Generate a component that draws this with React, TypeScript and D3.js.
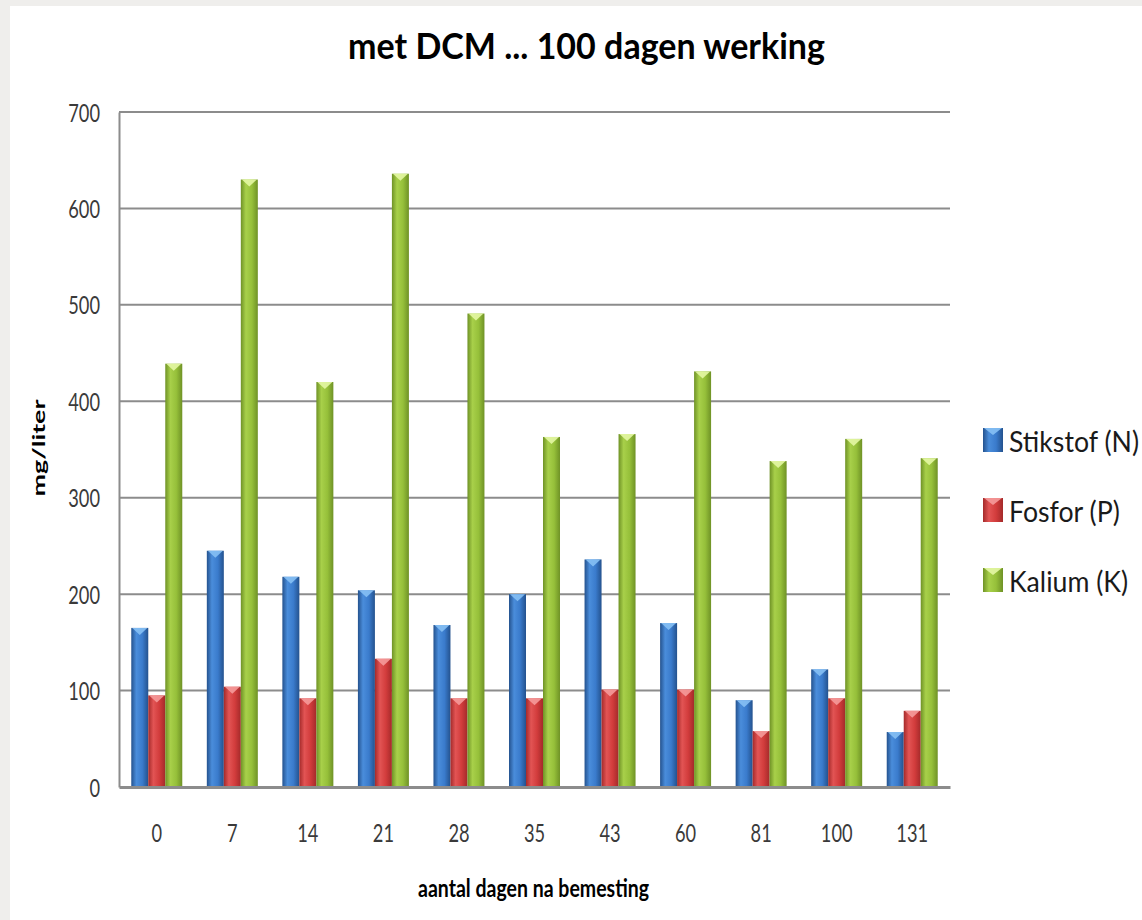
import { useEffect, useRef } from 'react'
import * as d3 from 'd3'

const days = ['0', '7', '14', '21', '28', '35', '43', '60', '81', '100', '131']
const stikstof = [165, 245, 218, 204, 168, 200, 236, 170, 90, 122, 57]
const fosfor = [95, 104, 92, 133, 92, 92, 101, 101, 58, 92, 79]
const kalium = [439, 630, 420, 636, 491, 363, 366, 431, 338, 361, 341]
const seriesNames = ['Stikstof (N)', 'Fosfor (P)', 'Kalium (K)']
const yTicks = [0, 100, 200, 300, 400, 500, 600, 700]

const palette = [
  { id: 'gN', dark: '#24528e', mid: '#4a8ddb', light: '#3a7bcc', cap: '#86c0f4' },
  { id: 'gP', dark: '#a42a2a', mid: '#e25454', light: '#d23c3c', cap: '#f59a9a' },
  { id: 'gK', dark: '#6f9226', mid: '#a8d04a', light: '#96c03a', cap: '#e4f7a4' },
]

export default function App() {
  const svgRef = useRef<SVGSVGElement>(null)

  useEffect(() => {
    if (!svgRef.current) return
    const svg = d3.select(svgRef.current)
    svg.selectAll('*').remove()

    const W = 1142
    const H = 920
    const margin = { top: 112, right: 192, bottom: 133, left: 119 }
    const font = 'Lato, "Open Sans", sans-serif'

    svg.attr('width', W).attr('height', H)

    // page background and white panel
    svg.append('rect').attr('width', W).attr('height', H).attr('fill', '#efeeec')
    svg.append('rect').attr('x', 10).attr('y', 6).attr('width', W - 10).attr('height', H - 6).attr('fill', '#ffffff')

    const defs = svg.append('defs')
    palette.forEach(p => {
      const lg = defs.append('linearGradient').attr('id', p.id).attr('x1', '0%').attr('x2', '100%').attr('y1', '0%').attr('y2', '0%')
      lg.append('stop').attr('offset', '0%').attr('stop-color', p.dark)
      lg.append('stop').attr('offset', '30%').attr('stop-color', p.mid)
      lg.append('stop').attr('offset', '65%').attr('stop-color', p.light)
      lg.append('stop').attr('offset', '100%').attr('stop-color', p.dark)
    })

    const x0 = d3.scaleBand<string>()
      .domain(days)
      .range([margin.left, W - margin.right])
      .paddingInner(0.325)
      .paddingOuter(0.1625)

    const x1 = d3.scaleBand<string>()
      .domain(seriesNames)
      .range([0, x0.bandwidth()])

    const y = d3.scaleLinear()
      .domain([0, 700])
      .range([H - margin.bottom, margin.top])

    // gridlines
    svg.append('g')
      .selectAll('line')
      .data(yTicks.filter(t => t > 0))
      .join('line')
      .attr('x1', margin.left)
      .attr('x2', W - margin.right)
      .attr('y1', d => y(d))
      .attr('y2', d => y(d))
      .attr('stroke', '#8c8c8c')
      .attr('stroke-width', 2)

    // y axis
    const yAxis = svg.append('g')
      .attr('transform', `translate(${margin.left},0)`)
      .call(d3.axisLeft(y).tickValues(yTicks).tickSize(0).tickPadding(0))
    yAxis.select('.domain').attr('stroke', '#8c8c8c').attr('stroke-width', 2)
    yAxis.selectAll('.tick text')
      .attr('x', -19 / 0.73)
      .attr('dy', '0.36em')
      .attr('transform', 'scale(0.73,1)')
      .attr('fill', '#3a3a3a')
      .style('font-family', font)
      .style('font-size', '25px')

    // bars
    const seriesData = [stikstof, fosfor, kalium]
    seriesData.forEach((vals, si) => {
      const p = palette[si]
      const g = svg.append('g')
      const bx = (i: number) => (x0(days[i]) as number) + (x1(seriesNames[si]) as number)
      const bw = x1.bandwidth()
      g.selectAll('rect')
        .data(vals)
        .join('rect')
        .attr('x', (_, i) => bx(i))
        .attr('y', d => y(d))
        .attr('width', bw)
        .attr('height', d => y(0) - y(d))
        .attr('fill', `url(#${p.id})`)
      g.selectAll('path')
        .data(vals)
        .join('path')
        .attr('d', (d, i) => {
          const l = bx(i), t = y(d)
          return `M${l + 1},${t}L${l + bw - 1},${t}L${l + bw / 2},${t + 7}Z`
        })
        .attr('fill', p.cap)
        .attr('opacity', 0.9)
    })

    // x axis
    const xAxis = svg.append('g')
      .attr('transform', `translate(0,${y(0)})`)
      .call(d3.axisBottom(x0).tickSize(0).tickPadding(0))
    xAxis.select('.domain').attr('stroke', '#8c8c8c').attr('stroke-width', 3)
    xAxis.selectAll('.tick text')
      .attr('y', 55)
      .attr('dy', '0')
      .attr('transform', 'scale(0.73,1)')
      .attr('fill', '#3a3a3a')
      .style('font-family', font)
      .style('font-size', '25px')

    // title
    svg.append('text')
      .attr('x', 586.5)
      .attr('y', 59)
      .attr('text-anchor', 'middle')
      .attr('textLength', 477)
      .attr('lengthAdjust', 'spacingAndGlyphs')
      .attr('fill', '#000')
      .style('font-family', font)
      .style('font-weight', 'bold')
      .style('font-size', '36px')
      .text('met DCM ... 100 dagen werking')

    // axis titles
    svg.append('text')
      .attr('x', 533.5)
      .attr('y', 897)
      .attr('text-anchor', 'middle')
      .attr('textLength', 231)
      .attr('lengthAdjust', 'spacingAndGlyphs')
      .attr('fill', '#000')
      .style('font-family', font)
      .style('font-weight', 'bold')
      .style('font-size', '24px')
      .text('aantal dagen na bemesting')

    svg.append('text')
      .attr('transform', 'translate(45,448) rotate(-90)')
      .attr('text-anchor', 'middle')
      .attr('textLength', 97)
      .attr('lengthAdjust', 'spacingAndGlyphs')
      .attr('fill', '#000')
      .style('font-family', font)
      .style('font-weight', 'bold')
      .style('font-size', '17px')
      .text('mg/liter')

    // legend
    const legend = svg.append('g').attr('transform', 'translate(983,428)')
    seriesNames.forEach((name, i) => {
      const p = palette[i]
      const row = legend.append('g').attr('transform', `translate(0,${i * 70})`)
      row.append('rect')
        .attr('width', 20)
        .attr('height', 24)
        .attr('fill', `url(#${p.id})`)
      row.append('path')
        .attr('d', 'M1,0L19,0L10,7Z')
        .attr('fill', p.cap)
        .attr('opacity', 0.9)
      row.append('text')
        .attr('x', 26)
        .attr('y', 24)
        .attr('transform', 'scale(0.92,1)')
        .attr('transform-origin', '26 24')
        .attr('fill', '#1a1a1a')
        .style('font-family', font)
        .style('font-size', '29px')
        .text(name)
    })
  }, [])

  return (
    <div style={{ position: 'absolute', left: 0, top: 0 }}>
      <svg ref={svgRef}></svg>
    </div>
  )
}
